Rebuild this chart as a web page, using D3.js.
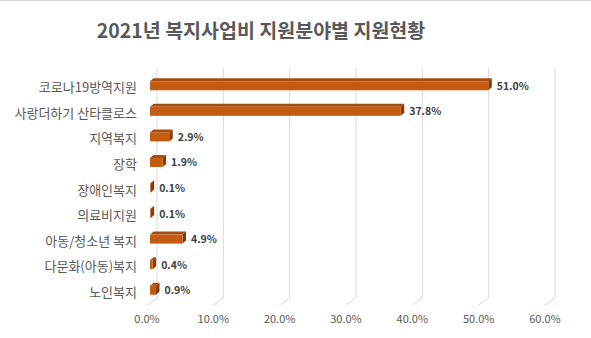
<!DOCTYPE html>
<html>
<head>
<meta charset="utf-8">
<script src="https://cdn.jsdelivr.net/npm/d3@7"></script>
<style>
  html, body { margin: 0; padding: 0; background: #fff; }
  svg { display: block; }
</style>
</head>
<body>
<svg id="chart" width="591" height="338"></svg>
<script>
// 2021 welfare spending by support area (share of total, %)
const categories = [
  "코로나19방역지원",
  "사랑더하기 산타클로스",
  "지역복지",
  "장학",
  "장애인복지",
  "의료비지원",
  "아동/청소년 복지",
  "다문화(아동)복지",
  "노인복지"
];
const shares = [51.0, 37.8, 2.9, 1.9, 0.1, 0.1, 4.9, 0.4, 0.9];
const tickValues = [0, 10, 20, 30, 40, 50, 60];
const titleText = "2021년 복지사업비 지원분야별 지원현황";

const W = 591, H = 338;
const svg = d3.select("#chart");
const font = "'Noto Sans CJK KR', 'Noto Sans', sans-serif";

// front plane of the 3D plot box
const x = d3.scaleLinear().domain([0, 60]).range([147, 545]);
const y = d3.scaleBand().domain(categories).range([75, 305]);

// depth of the box: back wall is shifted right/up
const depth = { dx: 10, dy: -7 };
// bar occupies a slice of the depth
const barFront = { dx: 3, dy: -2 };
const barBack = { dx: 6.5, dy: -5 };
const barH = 9;

// chart border (top edge)
svg.append("line")
  .attr("x1", 0).attr("x2", W).attr("y1", 0.5).attr("y2", 0.5)
  .attr("stroke", "#D9D9D9").attr("stroke-width", 1);

// title
svg.append("text")
  .attr("x", 261).attr("y", 38)
  .attr("text-anchor", "middle")
  .attr("font-family", font)
  .attr("font-size", 19.5)
  .attr("font-weight", "bold")
  .attr("fill", "#595959")
  .text(titleText);

const grid = svg.append("g");
const gridColor = "#D9D9D9";
const yTop = y.range()[0], yBot = y.range()[1];

// gridlines on back wall
grid.selectAll("line.wall")
  .data(tickValues)
  .join("line")
  .attr("class", "wall")
  .attr("x1", d => x(d) + depth.dx).attr("x2", d => x(d) + depth.dx)
  .attr("y1", yTop + depth.dy).attr("y2", yBot + depth.dy)
  .attr("stroke", gridColor).attr("stroke-width", 1);

// gridlines on floor
grid.selectAll("line.floor")
  .data(tickValues)
  .join("line")
  .attr("class", "floor")
  .attr("x1", d => x(d)).attr("x2", d => x(d) + depth.dx)
  .attr("y1", yBot).attr("y2", yBot + depth.dy)
  .attr("stroke", gridColor).attr("stroke-width", 1);

// axis tick labels
svg.append("g")
  .selectAll("text")
  .data(tickValues)
  .join("text")
  .attr("x", d => x(d))
  .attr("y", 323)
  .attr("text-anchor", "middle")
  .attr("font-family", font)
  .attr("font-size", 11)
  .attr("fill", "#595959")
  .text(d => d3.format(".1f")(d) + "%");

// category labels
svg.append("g")
  .selectAll("text")
  .data(categories)
  .join("text")
  .attr("x", 137)
  .attr("y", d => y(d) + y.bandwidth() / 2 + 4.5)
  .attr("text-anchor", "end")
  .attr("font-family", font)
  .attr("font-size", 13)
  .attr("fill", "#595959")
  .text(d => d);

// 3D bars
const rows = categories.map((c, i) => ({ c, v: shares[i] }));
const bars = svg.append("g").selectAll("g")
  .data(rows)
  .join("g");

function pts(arr) { return arr.map(p => p.join(",")).join(" "); }

bars.each(function (d) {
  const g = d3.select(this);
  const cy = y(d.c) + y.bandwidth() / 2;
  const x0 = x(0), x1 = x(d.v);
  const fx0 = x0 + barFront.dx, fx1 = x1 + barFront.dx;
  const fyT = cy + barFront.dy - barH / 2, fyB = cy + barFront.dy + barH / 2;
  const bdx = barBack.dx - barFront.dx, bdy = barBack.dy - barFront.dy;

  // top face
  g.append("polygon")
    .attr("points", pts([[fx0, fyT], [fx1, fyT], [fx1 + bdx, fyT + bdy], [fx0 + bdx, fyT + bdy]]))
    .attr("fill", "#A84B0F");
  // side face
  g.append("polygon")
    .attr("points", pts([[fx1, fyT], [fx1 + bdx, fyT + bdy], [fx1 + bdx, fyB + bdy], [fx1, fyB]]))
    .attr("fill", "#843C0C");
  // front face
  g.append("rect")
    .attr("x", fx0).attr("y", fyT)
    .attr("width", Math.max(0, fx1 - fx0)).attr("height", barH)
    .attr("fill", "#C55A11");

  // value label
  g.append("text")
    .attr("x", fx1 + bdx + 5)
    .attr("y", cy + barFront.dy + 4)
    .attr("font-family", font)
    .attr("font-size", 10.5)
    .attr("font-weight", "bold")
    .attr("fill", "#404040")
    .text(d3.format(".1f")(d.v) + "%");
});
</script>
</body>
</html>
